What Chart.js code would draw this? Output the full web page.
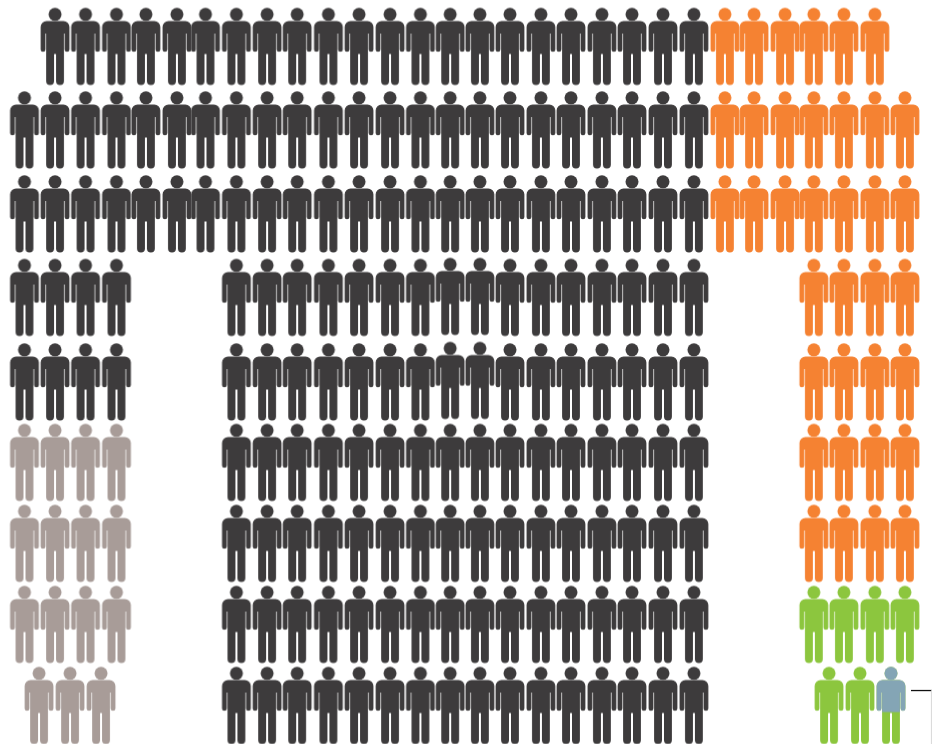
<!DOCTYPE html>
<html>
<head>
<meta charset="utf-8">
<title>People pictogram</title>
<script src="https://cdn.jsdelivr.net/npm/chart.js@4"></script>
<style>
  html, body { margin: 0; padding: 0; background: #fff; }
  canvas { display: block; }
</style>
</head>
<body>
<canvas id="people" width="932" height="744"></canvas>
<script>
// seat positions along the x axis, row positions along the y axis
const seats = [0, 1.005, 2.01, 3.03, 4, 5.02, 5.96, 6.98, 7.99, 8.98, 10.01, 11.02, 12.04, 13.04, 14.02,
  15, 15.99, 17.01, 18, 19.02, 20.01, 21.03, 22.05, 23.07, 24.03, 25.05, 26, 26.99, 28.01, 29];
const rows = [0, 1.014, 2.033, 3.047, 4.073, 5.05, 6.033, 7.017, 8];

// [row, first seat, last seat]
const darkRuns = [[0, 1, 22], [1, 0, 22], [2, 0, 22], [3, 0, 3], [3, 7, 13], [3, 16, 22], [4, 0, 3],
  [4, 7, 13], [4, 16, 22], [5, 7, 22], [6, 7, 22], [7, 7, 22], [8, 7, 22]];
const orangeRuns = [[0, 23, 28], [1, 23, 29], [2, 23, 29], [3, 26, 29], [4, 26, 29], [5, 26, 29], [6, 26, 29]];
const taupeRuns = [[5, 0, 3], [6, 0, 3], [7, 0, 3]];
const greenRuns = [[7, 26, 29]];

// two figures in the middle of rows 3 and 4 stand slightly higher
const raisedX = [14.02, 15];
const raisedY = [3.035, 4.055];

// the last row sits off the seat grid
const taupeLast = [0.478, 1.499, 2.52];
const greenLast = [26.5, 27.52];
const splitLast = [28.54];
const splitAt = 0.585; // share of the figure height in blue

const leaderX = [29.2, 29.89];
const leaderY = [7.818, 7.818];
const edgeX = [29.875, 29.875];
const edgeY = [7.818, 8.467];

const DARK = "#3d3b3c";
const ORANGE = "#f58232";
const TAUPE = "#a89c98";
const GREEN = "#8cc63e";
const BLUE = "#84a5b5";

function expand(runs) {
  const out = [];
  runs.forEach(([row, a, b]) => {
    for (let s = a; s <= b; s++) out.push({ x: seats[s], y: rows[row] });
  });
  return out;
}

function lastRow(xs) {
  return xs.map((x) => ({ x: x, y: rows[8] }));
}

function raised() {
  const out = [];
  raisedY.forEach((y) => raisedX.forEach((x) => out.push({ x: x, y: y })));
  return out;
}

function personPath(c, cx, top) {
  c.beginPath();
  c.arc(cx, top + 6.3, 6.5, 0, Math.PI * 2);
  c.fill();
  c.beginPath();
  c.roundRect(cx - 14.4, top + 13, 28.8, 12.5, [6, 6, 0, 0]);
  c.roundRect(cx - 14.4, top + 20, 4.8, 23.8, 2.4);
  c.roundRect(cx + 9.6, top + 20, 4.8, 23.8, 2.4);
  c.rect(cx - 8.9, top + 20, 17.8, 26);
  c.roundRect(cx - 8.9, top + 40, 7.9, 37, [0, 0, 3.9, 3.9]);
  c.roundRect(cx + 1, top + 40, 7.9, 37, [0, 0, 3.9, 3.9]);
  c.fill();
}

function person(color, topColor, share) {
  const img = document.createElement("canvas");
  img.width = 32;
  img.height = 80;
  const c = img.getContext("2d");
  c.fillStyle = color;
  personPath(c, 16, 1.5);
  if (topColor) {
    c.save();
    c.beginPath();
    c.rect(0, 0, 32, 1.5 + 77 * share);
    c.clip();
    c.fillStyle = topColor;
    personPath(c, 16, 1.5);
    c.restore();
  }
  return img;
}

function peopleSet(label, data, icon) {
  return { label: label, data: data, pointStyle: icon, showLine: false, clip: false };
}

function lineSet(label, xs, ys, color, width) {
  return {
    label: label,
    data: xs.map((x, i) => ({ x: x, y: ys[i] })),
    showLine: true,
    borderColor: color,
    borderWidth: width,
    pointRadius: 0,
    clip: false,
  };
}

new Chart(document.getElementById("people").getContext("2d"), {
  type: "scatter",
  data: {
    datasets: [
      peopleSet("Dark", expand(darkRuns).concat(raised()), person(DARK)),
      peopleSet("Orange", expand(orangeRuns), person(ORANGE)),
      peopleSet("Taupe", expand(taupeRuns).concat(lastRow(taupeLast)), person(TAUPE)),
      peopleSet("Green", expand(greenRuns).concat(lastRow(greenLast)), person(GREEN)),
      peopleSet("Split", lastRow(splitLast), person(GREEN, BLUE, splitAt)),
      lineSet("Edge", edgeX, edgeY, "#dcdcdc", 1),
      lineSet("Leader", leaderX, leaderY, "#111111", 1.3),
    ],
  },
  options: {
    responsive: false,
    animation: false,
    layout: { padding: 0, autoPadding: false },
    plugins: {
      legend: { display: false },
      title: { display: false },
      tooltip: { enabled: false },
    },
    scales: {
      x: { type: "linear", display: false, min: -0.807, max: 29.892 },
      y: { type: "linear", display: false, reverse: true, min: -0.5645, max: 8.467 },
    },
  },
});
</script>
</body>
</html>
